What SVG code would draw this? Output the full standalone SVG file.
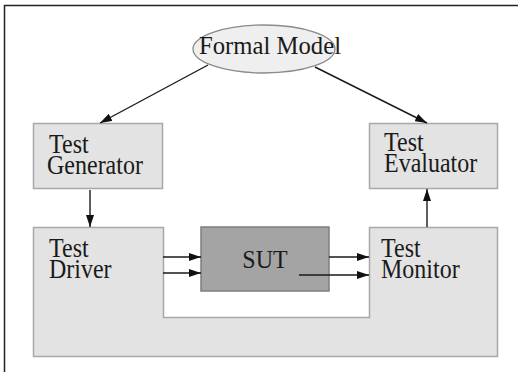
<svg xmlns="http://www.w3.org/2000/svg" width="518" height="372" viewBox="0 0 518 372">
  <defs>
    <marker id="arrow" viewBox="0 0 12 8" refX="12" refY="4" markerWidth="12" markerHeight="8" markerUnits="userSpaceOnUse" orient="auto">
      <path d="M0,0 L12,4 L0,8 Z" fill="#111"/>
    </marker>
  </defs>
  <style>
    .lbl { font-family: "Liberation Serif", "Times New Roman", serif; font-size: 24px; fill: #1a1a1a; }
    .box { fill: #e3e3e3; stroke: #a8a8a8; stroke-width: 1.5; }
    .conn { stroke: #1a1a1a; stroke-width: 1.4; fill: none; marker-end: url(#arrow); }
  </style>
  <rect width="518" height="372" fill="#ffffff"/>
  <!-- page frame (open to the right and bottom) -->
  <path d="M4.5,372 V5.5 H518" fill="none" stroke="#222" stroke-width="1.5"/>

  <g id="formal-model">
    <ellipse cx="264" cy="49" rx="71" ry="24" fill="#efefef" stroke="#8a8a8a" stroke-width="1.3"/>
    <text class="lbl" transform="translate(199,54) scale(1.03,1.08)">Formal Model</text>
  </g>

  <g id="test-generator">
    <rect class="box" x="33.5" y="123.5" width="129" height="65"/>
    <text class="lbl" transform="translate(49,152.5) scale(1,1.1)"><tspan x="0" y="0">Test</tspan><tspan x="-2" y="19.1">Generator</tspan></text>
  </g>

  <g id="test-evaluator">
    <rect class="box" x="369.5" y="123.5" width="128" height="65"/>
    <text class="lbl" transform="translate(384,151) scale(1,1.1)"><tspan x="0" y="0">Test</tspan><tspan x="0" y="19.1">Evaluator</tspan></text>
  </g>

  <!-- driver and monitor share one U-shaped harness around the SUT -->
  <g id="test-harness">
    <path class="box" d="M33.5,227.5 H163.5 V317.5 H369.5 V227.5 H497.5 V356.5 H33.5 Z"/>
  </g>

  <g id="test-driver">
    <text class="lbl" transform="translate(49,257) scale(1,1.1)"><tspan x="0" y="0">Test</tspan><tspan x="0" y="19.1">Driver</tspan></text>
  </g>

  <g id="test-monitor">
    <text class="lbl" transform="translate(381,257) scale(1,1.1)"><tspan x="0" y="0">Test</tspan><tspan x="0" y="19.1">Monitor</tspan></text>
  </g>

  <g id="sut">
    <rect x="201" y="227" width="128" height="64" fill="#a4a4a4" stroke="#7e7e7e" stroke-width="1.5"/>
    <text class="lbl" transform="translate(265,268) scale(1,1.08)" text-anchor="middle">SUT</text>
  </g>

  <g id="connectors">
    <line class="conn" x1="208" y1="65" x2="100" y2="123"/>
    <line class="conn" x1="315" y1="67" x2="427" y2="123"/>
    <line class="conn" x1="90" y1="190" x2="90" y2="227"/>
    <line class="conn" x1="163" y1="257" x2="201" y2="257"/>
    <line class="conn" x1="163" y1="273" x2="201" y2="273"/>
    <line class="conn" x1="329" y1="257" x2="369" y2="257"/>
    <line class="conn" x1="299" y1="275" x2="369" y2="275"/>
    <line class="conn" x1="427" y1="227" x2="427" y2="189"/>
  </g>
</svg>
